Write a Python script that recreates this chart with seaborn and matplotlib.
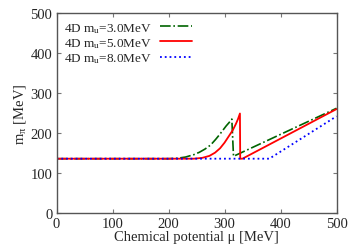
import numpy as np
import pandas as pd
import seaborn as sns
import matplotlib.pyplot as plt

mu_3 = [0, 200, 215, 230, 245, 255, 265, 275, 284, 291, 297, 303, 308, 313, 316, 500]
m_3 = [136, 136, 137, 140, 146, 152, 160, 170, 184, 196, 207, 218, 226, 235, 142, 262]
mu_5 = [0, 245, 260, 273, 283, 292, 300, 308, 315, 320, 324, 327.5, 328, 332, 500]
m_5 = [136, 136, 138, 143, 151, 162, 176, 193, 208, 222, 235, 249, 136, 136, 260]
mu_8 = [0, 380, 500]
m_8 = [136, 136, 242]
labels = ["4D m$_\\mathrm{u}$=3.0MeV", "4D m$_\\mathrm{u}$=5.0MeV", "4D m$_\\mathrm{u}$=8.0MeV"]

sns.set_style("ticks")
plt.rcParams['font.family'] = ['Liberation Serif', 'DejaVu Serif']
plt.rcParams['mathtext.fontset'] = 'custom'
plt.rcParams['mathtext.rm'] = 'Liberation Serif'
plt.rcParams['mathtext.it'] = 'Liberation Serif'

fig = plt.figure(figsize=(3.58, 2.51), dpi=100)
ax = fig.add_axes([0.158, 0.147, 0.782, 0.797])

sns.lineplot(x=mu_3, y=m_3, ax=ax, color="#006400", linestyle="-.", lw=1.2, label=labels[0], sort=False)
sns.lineplot(x=mu_5, y=m_5, ax=ax, color="red", linestyle="-", lw=1.3, label=labels[1], sort=False)
sns.lineplot(x=mu_8, y=m_8, ax=ax, color="blue", linestyle=":", lw=1.3, label=labels[2], sort=False)

ax.set_xlim(0, 500)
ax.set_ylim(0, 500)
ax.set_xticks(range(0, 501, 100))
ax.set_yticks(range(0, 501, 100))
ax.tick_params(direction="in", top=True, right=True, labelsize=10.5, length=3, color="#777777", pad=3)
for s in ax.spines.values():
    s.set_color("#555555")
    s.set_linewidth(1.0)
ax.set_xlabel("Chemical potential μ [MeV]", fontsize=10.5, labelpad=0)
ax.set_ylabel("m$_\\pi$ [MeV]", fontsize=10.5, labelpad=2)
ax.legend(loc="upper left", frameon=False, markerfirst=False, fontsize=9.5,
          handlelength=2.4, labelspacing=0.1, borderaxespad=0.2, handletextpad=0.6)

fig.savefig("out.png", dpi=100)
